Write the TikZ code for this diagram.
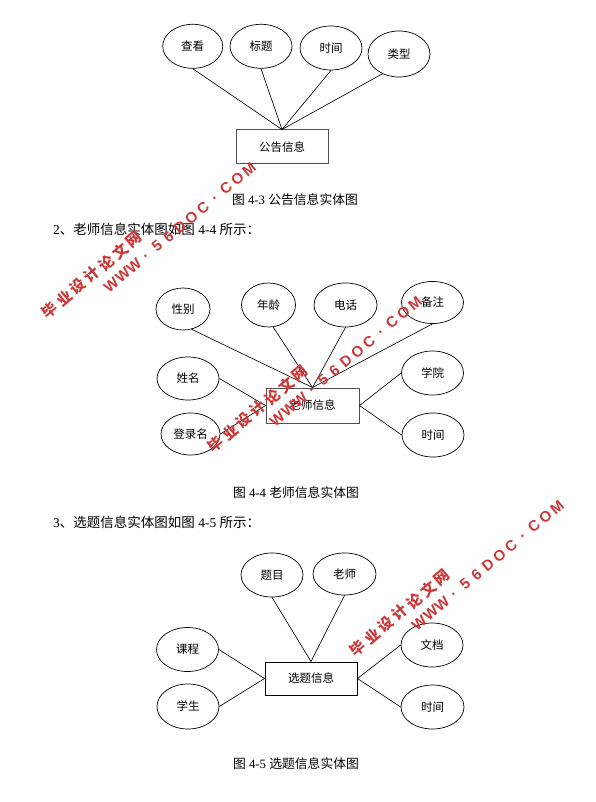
\documentclass[tikz,border=0pt]{standalone}
\usepackage{fontspec}
\setmainfont{Liberation Serif}
\newfontfamily\cjk{Noto Sans CJK SC}
\newfontfamily\wmsans{Liberation Sans}
\usetikzlibrary{shapes.geometric}
\definecolor{wmred}{RGB}{205,55,55}
\definecolor{boxgray}{RGB}{80,80,80}
\tikzset{
 attr/.style={draw=black, line width=0.7pt, ellipse, inner sep=0pt, minimum width=62pt, minimum height=44pt, font=\cjk\fontsize{11.5}{12}\selectfont},
 ent/.style={draw=boxgray, line width=1pt, rectangle, inner sep=0pt, minimum width=92pt, minimum height=34pt, font=\cjk\fontsize{11.5}{12}\selectfont},
 link/.style={line width=0.65pt, draw=black},
 captext/.style={font=\fontsize{12.8}{14}\selectfont, inner sep=0pt},
 paratext/.style={font=\fontsize{13.5}{15}\selectfont, inner sep=0pt, anchor=west},
 wmzh/.style={text=wmred, font=\cjk\bfseries\fontsize{15}{15}\selectfont, inner sep=0pt, rotate=40},
 wmen/.style={text=wmred, font=\wmsans\bfseries\fontsize{15}{15}\selectfont, inner sep=0pt, rotate=40},
}
\newcommand\wmark[3]{%
 \begin{scope}[shift={(#2,#3)}, rotate=40]
 \foreach \c [count=\i from 0] in {毕,业,设,计,论,文,网} \node[wmzh] (#1z\i) at (\i*18.3,0) {\c};
 \foreach \c [count=\i from 0] in {W,W,W,.,5,6,D,O,C,.,C,O,M} \node[wmen] (#1e\i) at (63+\i*15,20) {\c};
 \end{scope}}
\begin{document}
\begin{tikzpicture}[x=1pt,y=-1pt]
\useasboundingbox (0,0) rectangle (596,802);
\fill[white] (0,0) rectangle (596,802);

% ---- Diagram 4-3
\node[attr, minimum width=60pt] (ck) at (192.7,46.3) {查看};
\node[attr] (bt) at (261,46.3) {标题};
\node[attr] (sja) at (331,48) {时间};
\node[attr, minimum height=46pt] (lx) at (399,54) {类型};
\node[ent] (gg) at (282,147) {公告信息};
\draw[link] (ck.south) -- (gg.north);
\draw[link] (bt.south) -- (gg.north);
\draw[link] (sja.south) -- (gg.north);
\draw[link] (lx.230) -- (gg.north);
\node[captext] (capa) at (295,200) {{\cjk 图} 4-3 {\cjk 公告信息实体图}};

\node[paratext] (pb) at (53,229) {2{\cjk 、老师信息实体图如图} 4-4 {\cjk 所示：}};

% ---- Diagram 4-4
\node[attr, minimum width=54pt, minimum height=42pt] (xb) at (183,309) {性别};
\node[attr, minimum width=54pt] (nl) at (268.5,305) {年龄};
\node[attr, minimum width=63pt] (dh) at (345.5,305) {电话};
\node[attr, minimum height=42pt] (bz) at (432.5,302.5) {备注};
\node[attr, minimum height=43pt] (xm) at (188,378.5) {姓名};
\node[attr, minimum width=59pt, minimum height=42pt] (dlm) at (190.5,434) {登录名};
\node[attr] (xy) at (432.5,373) {学院};
\node[attr] (sjb) at (433,435) {时间};
\node[ent, minimum width=93pt, minimum height=35pt] (lsxx) at (312.5,405.5) {老师信息};
\draw[link] (xb.-67) -- (lsxx.north);
\draw[link] (nl.-78) -- (lsxx.north);
\draw[link] (dh.south) -- (lsxx.north);
\draw[link] (bz.south) -- (lsxx.north);
\draw[link] (xm.east) -- (lsxx.west);
\draw[link] (dlm.east) -- (lsxx.west);
\draw[link] (xy.west) -- (lsxx.east);
\draw[link] (sjb.west) -- (lsxx.east);
\node[captext] (capb) at (296,493) {{\cjk 图} 4-4 {\cjk 老师信息实体图}};

\node[paratext] (pc) at (53,522) {3{\cjk 、选题信息实体图如图} 4-5 {\cjk 所示：}};

% ---- Diagram 4-5
\node[attr] (tm) at (272,575) {题目};
\node[attr, minimum width=63pt, minimum height=42pt] (ls) at (344.5,574) {老师};
\node[attr] (kc) at (187.5,649.5) {课程};
\node[attr, minimum height=45pt] (xs) at (188,706.5) {学生};
\node[attr] (wd) at (432,645) {文档};
\node[attr, minimum width=63pt] (sjc) at (432.5,707) {时间};
\node[ent, draw=black, minimum height=33pt] (xt) at (311,678.5) {选题信息};
\draw[link] (tm.south) -- (xt.north);
\draw[link] (ls.south) -- (xt.north);
\draw[link] (kc.east) -- (xt.west);
\draw[link] (xs.east) -- (xt.west);
\draw[link] (wd.west) -- (xt.east);
\draw[link] (sjc.west) -- (xt.east);
\node[captext] (capc) at (296,764) {{\cjk 图} 4-5 {\cjk 选题信息实体图}};

% ---- watermarks
\wmark{wa}{50}{310}
\wmark{wb}{216}{444}
\wmark{wc}{358}{648}
\end{tikzpicture}
\end{document}
